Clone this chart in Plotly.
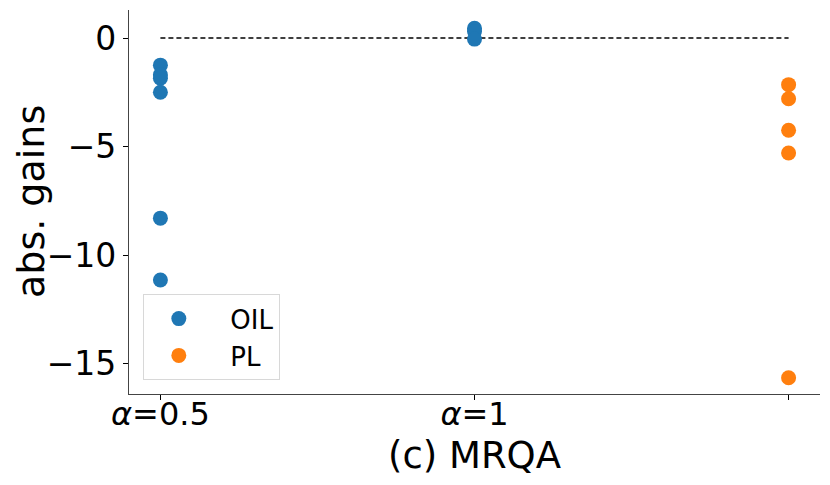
import plotly.graph_objects as go

# category positions on the x axis
tick_pos = [0, 1, 2]
tick_labels = ["<i>α</i>=0.5", "<i>α</i>=1", ""]

# OIL gains (alpha=0.5 and alpha=1)
oil_x = [0, 0, 0, 0, 0, 0, 1, 1, 1]
oil_y = [-1.25, -1.7, -1.85, -2.5, -8.3, -11.15, 0.45, 0.3, -0.05]

# PL gains
pl_x = [2, 2, 2, 2, 2]
pl_y = [-2.15, -2.8, -4.25, -5.3, -15.65]

font = "DejaVu Sans"
pad = "\u00a0\u00a0"

fig = go.Figure()
fig.add_trace(go.Scatter(
    x=[0, 2], y=[0, 0], mode="lines", showlegend=False,
    line=dict(color="black", width=1.4, dash="5px,3px"), hoverinfo="skip"))
fig.add_trace(go.Scatter(
    x=oil_x, y=oil_y, mode="markers", name=pad + "OIL",
    marker=dict(color="#1f77b4", size=15)))
fig.add_trace(go.Scatter(
    x=pl_x, y=pl_y, mode="markers", name=pad + "PL",
    marker=dict(color="#ff7f0e", size=15)))

# page body adds an 8px offset, so the figure is a bit smaller than the window
fig.update_layout(
    width=822, height=477,
    margin=dict(l=121, r=10, t=2, b=91),
    plot_bgcolor="white", paper_bgcolor="white",
    font=dict(family=font, color="black"),
    legend=dict(x=0.02, y=0.036, xanchor="left", yanchor="bottom",
                bgcolor="rgba(255,255,255,0.8)", bordercolor="#d8d8d8",
                borderwidth=1, font=dict(size=26, family=font),
                itemwidth=60, tracegroupgap=4),
)
fig.update_xaxes(
    range=[-0.1, 2.1], tickvals=tick_pos, ticktext=tick_labels,
    showline=True, linecolor="#444", linewidth=1.2, mirror=False,
    ticks="outside", ticklen=5, tickcolor="black", showgrid=False, zeroline=False,
    tickfont=dict(size=32, family=font), ticklabelstandoff=-14, automargin=False)
fig.update_yaxes(
    range=[-16.4, 1.29], tickvals=[0, -5, -10, -15],
    ticktext=["0", "−5", "−10", "−15"],
    showline=True, linecolor="#444", linewidth=1.2, mirror=False,
    ticks="outside", ticklen=5, tickcolor="black", showgrid=False, zeroline=False,
    tickfont=dict(size=33, family=font), automargin=False)

# axis titles
fig.add_annotation(text="(c) MRQA", xref="paper", yref="paper", x=0.5, y=0,
                   xanchor="center", yanchor="middle", yshift=-61, showarrow=False,
                   font=dict(size=37, family=font))
fig.add_annotation(text="abs. gains", xref="paper", yref="paper", x=0, y=0.5,
                   xanchor="center", yanchor="middle", xshift=-98, textangle=-90,
                   showarrow=False, font=dict(size=38, family=font))

fig.write_html("out.html")
